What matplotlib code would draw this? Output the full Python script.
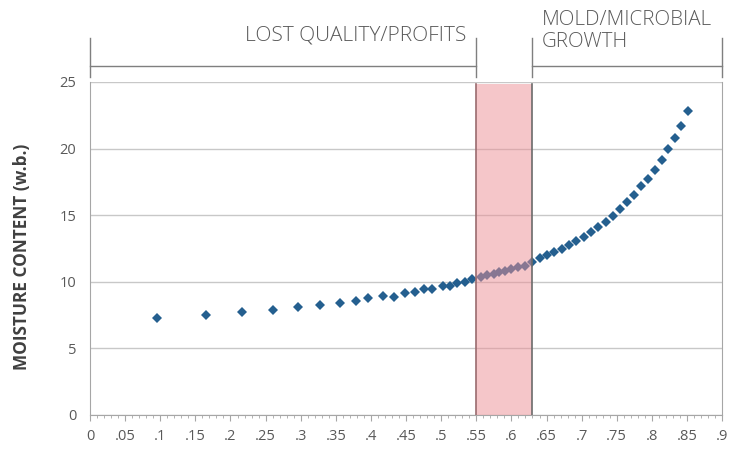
import matplotlib.pyplot as plt
import matplotlib.transforms as mtransforms
from matplotlib.ticker import MultipleLocator, FuncFormatter

plt.rcParams['font.family'] = ['Open Sans', 'DejaVu Sans']

# water activity (x) vs moisture content (y)
aw = [0.096, 0.165, 0.217, 0.261, 0.296, 0.328, 0.356, 0.379, 0.396, 0.417,
      0.433, 0.448, 0.463, 0.476, 0.487, 0.502, 0.513, 0.523, 0.534, 0.544,
      0.556, 0.565, 0.575, 0.583, 0.591, 0.600, 0.609, 0.619, 0.629, 0.641,
      0.651, 0.661, 0.672, 0.682, 0.692, 0.703, 0.714, 0.724, 0.735, 0.744,
      0.754, 0.765, 0.775, 0.785, 0.794, 0.804, 0.814, 0.823, 0.833, 0.842,
      0.852]
mc = [7.28, 7.49, 7.71, 7.91, 8.09, 8.28, 8.39, 8.56, 8.76, 8.91,
      8.88, 9.18, 9.26, 9.46, 9.44, 9.68, 9.71, 9.93, 9.98, 10.21,
      10.37, 10.48, 10.59, 10.71, 10.83, 10.94, 11.09, 11.21, 11.45, 11.76,
      12.0, 12.24, 12.49, 12.76, 13.05, 13.34, 13.71, 14.12, 14.49, 14.95,
      15.46, 15.98, 16.54, 17.15, 17.71, 18.39, 19.15, 20.0, 20.8, 21.7,
      22.8]

safe_zone = (0.55, 0.63)
x_end = 0.9
grey = '#595959'

fig = plt.figure(figsize=(7.41, 4.5), dpi=100)
ax = fig.add_axes([0.1215, 0.078, 0.853, 0.74])

ax.plot(aw, mc, 'D', color='#245f8f', markersize=4.8, markeredgewidth=0, zorder=3)

# pink band over the points
ax.axvspan(safe_zone[0], safe_zone[1], ymax=0.994, facecolor='#ec8f95', alpha=0.5,
           edgecolor='none', zorder=4)
ax.plot([safe_zone[0]] * 2, [0, 24.85], color='#9a6b6e', lw=1.2, zorder=5)
ax.plot([safe_zone[1]] * 2, [0, 24.85], color='#6b6b6b', lw=1.2, zorder=5)

ax.set_xlim(0, x_end)
ax.set_ylim(0, 25)
ax.set_yticks([0, 5, 10, 15, 20, 25])
ax.xaxis.set_major_locator(MultipleLocator(0.05))
ax.xaxis.set_minor_locator(MultipleLocator(0.01))


def fmt(v, pos):
    s = ('%.2f' % v).rstrip('0').rstrip('.')
    return s[1:] if s.startswith('0.') else s


ax.xaxis.set_major_formatter(FuncFormatter(fmt))
ax.grid(axis='y', color='#c8c8c8', lw=1)
ax.set_axisbelow(True)

for side in ['left', 'right', 'bottom']:
    ax.spines[side].set_color('#a6a6a6')
ax.spines['top'].set_visible(False)
ax.tick_params(axis='y', length=0, pad=10, labelsize=10.5, labelcolor=grey)
ax.tick_params(axis='x', which='major', length=4, color='#a6a6a6', pad=6,
               labelsize=10.5, labelcolor=grey)
ax.tick_params(axis='x', which='minor', length=2.5, color='#a6a6a6')

ax.set_ylabel('MOISTURE CONTENT (w.b.)', fontsize=12.4, fontweight='bold',
              color='#404040')
ax.yaxis.set_label_coords(-0.094, 0.474)

# brackets above the plot
tr = mtransforms.blended_transform_factory(ax.transData, ax.transAxes)
for x0, x1 in [(0, safe_zone[0]), (safe_zone[1], x_end)]:
    ax.plot([x0, x1], [1.048, 1.048], color='#7f7f7f', lw=1, transform=tr, clip_on=False)
    for xv in (x0, x1):
        ax.plot([xv, xv], [1.015, 1.133], color='#7f7f7f', lw=1, transform=tr, clip_on=False)

ax.text(0.536, 1.138, 'LOST QUALITY/PROFITS', transform=tr, ha='right', va='center',
        fontsize=15, fontweight='light', color=grey)
ax.text(0.643, 1.153, 'MOLD/MICROBIAL\nGROWTH', transform=tr, ha='left', va='center',
        fontsize=14.8, fontweight='light', color=grey, linespacing=1.1)

fig.savefig('out.png', dpi=100)
